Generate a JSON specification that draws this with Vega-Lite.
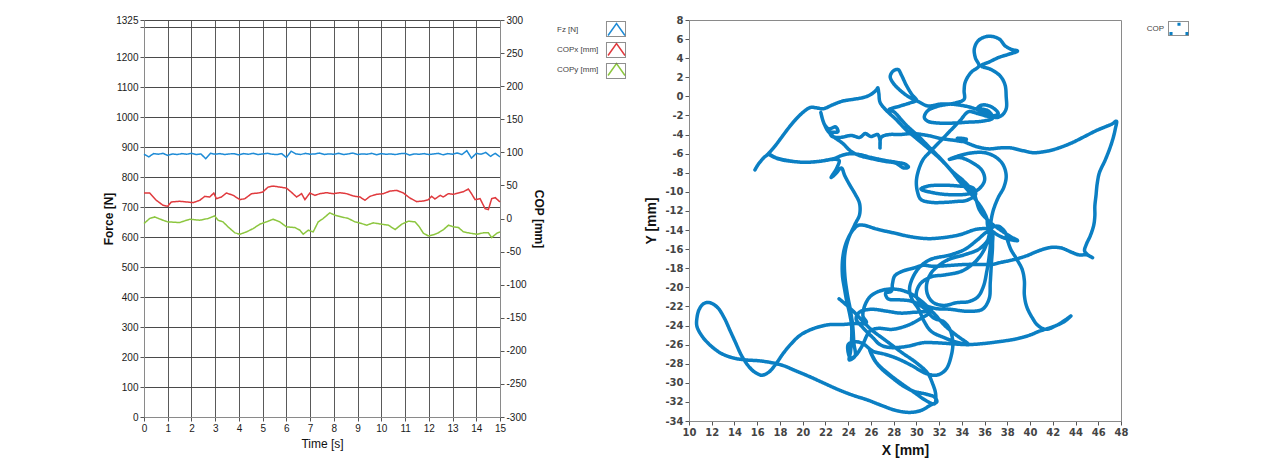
{
  "$schema": "https://vega.github.io/schema/vega-lite/v6.json",
  "background": "white",
  "padding": {"left": 102, "top": 14, "right": 5, "bottom": 5},
  "bounds": "flush",
  "spacing": 189,
  "resolve": {
    "scale": {"color": "independent", "strokeDash": "independent"},
    "legend": {"color": "independent", "strokeDash": "independent"}
  },
  "config": {
    "font": "Liberation Sans",
    "view": {"stroke": "#8a8a8a", "strokeWidth": 1},
    "axis": {
      "labelFont": "Liberation Sans", "labelFontSize": 10, "labelColor": "#1a1a1a",
      "titleFont": "Liberation Sans", "titleColor": "#111",
      "tickColor": "#555", "domainColor": "#8a8a8a", "tickSize": 4, "labelPadding": 2,
      "labelOverlap": false, "labelFlush": false
    },
    "legend": {"padding": 0, "labelFont": "Liberation Sans", "labelFontSize": 8, "labelColor": "#444"}
  },
  "datasets": {
    "ts": [
      {"s":"Fz [N]","t":0,"v":877},{"s":"Fz [N]","t":0.2,"v":868},{"s":"Fz [N]","t":0.4,"v":879},{"s":"Fz [N]","t":0.6,"v":877},{"s":"Fz [N]","t":0.8,"v":880},
      {"s":"Fz [N]","t":1.0,"v":873},{"s":"Fz [N]","t":1.2,"v":878},{"s":"Fz [N]","t":1.4,"v":876},{"s":"Fz [N]","t":1.6,"v":879},{"s":"Fz [N]","t":1.8,"v":877},
      {"s":"Fz [N]","t":2.0,"v":880},{"s":"Fz [N]","t":2.2,"v":876},{"s":"Fz [N]","t":2.4,"v":878},{"s":"Fz [N]","t":2.6,"v":862},{"s":"Fz [N]","t":2.8,"v":880},
      {"s":"Fz [N]","t":3.0,"v":877},{"s":"Fz [N]","t":3.2,"v":879},{"s":"Fz [N]","t":3.4,"v":876},{"s":"Fz [N]","t":3.6,"v":878},{"s":"Fz [N]","t":3.8,"v":879},
      {"s":"Fz [N]","t":4.0,"v":875},{"s":"Fz [N]","t":4.2,"v":879},{"s":"Fz [N]","t":4.4,"v":877},{"s":"Fz [N]","t":4.6,"v":880},{"s":"Fz [N]","t":4.8,"v":876},
      {"s":"Fz [N]","t":5.0,"v":878},{"s":"Fz [N]","t":5.2,"v":880},{"s":"Fz [N]","t":5.4,"v":877},{"s":"Fz [N]","t":5.6,"v":876},{"s":"Fz [N]","t":5.8,"v":879},
      {"s":"Fz [N]","t":6.0,"v":866},{"s":"Fz [N]","t":6.2,"v":887},{"s":"Fz [N]","t":6.4,"v":878},{"s":"Fz [N]","t":6.6,"v":876},{"s":"Fz [N]","t":6.8,"v":880},
      {"s":"Fz [N]","t":7.0,"v":877},{"s":"Fz [N]","t":7.2,"v":878},{"s":"Fz [N]","t":7.4,"v":881},{"s":"Fz [N]","t":7.6,"v":876},{"s":"Fz [N]","t":7.8,"v":878},
      {"s":"Fz [N]","t":8.0,"v":877},{"s":"Fz [N]","t":8.2,"v":880},{"s":"Fz [N]","t":8.4,"v":876},{"s":"Fz [N]","t":8.6,"v":878},{"s":"Fz [N]","t":8.8,"v":881},
      {"s":"Fz [N]","t":9.0,"v":876},{"s":"Fz [N]","t":9.2,"v":878},{"s":"Fz [N]","t":9.4,"v":877},{"s":"Fz [N]","t":9.6,"v":880},{"s":"Fz [N]","t":9.8,"v":875},
      {"s":"Fz [N]","t":10.0,"v":879},{"s":"Fz [N]","t":10.2,"v":877},{"s":"Fz [N]","t":10.4,"v":878},{"s":"Fz [N]","t":10.6,"v":876},{"s":"Fz [N]","t":10.8,"v":879},
      {"s":"Fz [N]","t":11.0,"v":880},{"s":"Fz [N]","t":11.2,"v":874},{"s":"Fz [N]","t":11.4,"v":878},{"s":"Fz [N]","t":11.6,"v":877},{"s":"Fz [N]","t":11.8,"v":879},
      {"s":"Fz [N]","t":12.0,"v":876},{"s":"Fz [N]","t":12.2,"v":878},{"s":"Fz [N]","t":12.4,"v":880},{"s":"Fz [N]","t":12.6,"v":875},{"s":"Fz [N]","t":12.8,"v":879},
      {"s":"Fz [N]","t":13.0,"v":877},{"s":"Fz [N]","t":13.2,"v":881},{"s":"Fz [N]","t":13.4,"v":876},{"s":"Fz [N]","t":13.6,"v":889},{"s":"Fz [N]","t":13.8,"v":864},
      {"s":"Fz [N]","t":14.0,"v":880},{"s":"Fz [N]","t":14.2,"v":877},{"s":"Fz [N]","t":14.4,"v":883},{"s":"Fz [N]","t":14.6,"v":870},{"s":"Fz [N]","t":14.8,"v":880},
      {"s":"Fz [N]","t":15.0,"v":868},
      {"s":"COPx [mm]","t":0,"v":38.5},{"s":"COPx [mm]","t":0.24,"v":38.5},{"s":"COPx [mm]","t":0.52,"v":27.5},{"s":"COPx [mm]","t":0.8,"v":20},{"s":"COPx [mm]","t":1.0,"v":18.5},
      {"s":"COPx [mm]","t":1.15,"v":25},{"s":"COPx [mm]","t":1.5,"v":26},{"s":"COPx [mm]","t":1.8,"v":25},{"s":"COPx [mm]","t":2.07,"v":24},{"s":"COPx [mm]","t":2.35,"v":27.5},
      {"s":"COPx [mm]","t":2.56,"v":33.5},{"s":"COPx [mm]","t":2.77,"v":32.5},{"s":"COPx [mm]","t":2.94,"v":38.5},{"s":"COPx [mm]","t":3.05,"v":30},{"s":"COPx [mm]","t":3.26,"v":32.5},
      {"s":"COPx [mm]","t":3.47,"v":38.5},{"s":"COPx [mm]","t":3.76,"v":35},{"s":"COPx [mm]","t":4.04,"v":28.5},{"s":"COPx [mm]","t":4.25,"v":30},{"s":"COPx [mm]","t":4.53,"v":37.5},
      {"s":"COPx [mm]","t":4.81,"v":38.5},{"s":"COPx [mm]","t":5.0,"v":40},{"s":"COPx [mm]","t":5.23,"v":47.5},{"s":"COPx [mm]","t":5.44,"v":49},{"s":"COPx [mm]","t":5.72,"v":47.5},
      {"s":"COPx [mm]","t":6.0,"v":46},{"s":"COPx [mm]","t":6.2,"v":40},{"s":"COPx [mm]","t":6.43,"v":32.5},{"s":"COPx [mm]","t":6.64,"v":37.5},{"s":"COPx [mm]","t":6.78,"v":28.5},
      {"s":"COPx [mm]","t":6.99,"v":38.5},{"s":"COPx [mm]","t":7.2,"v":35},{"s":"COPx [mm]","t":7.41,"v":37.5},{"s":"COPx [mm]","t":7.69,"v":39},{"s":"COPx [mm]","t":7.97,"v":37.5},
      {"s":"COPx [mm]","t":8.26,"v":39},{"s":"COPx [mm]","t":8.54,"v":37.5},{"s":"COPx [mm]","t":8.82,"v":34},{"s":"COPx [mm]","t":9.1,"v":32.5},{"s":"COPx [mm]","t":9.31,"v":27.5},
      {"s":"COPx [mm]","t":9.52,"v":33.5},{"s":"COPx [mm]","t":9.8,"v":36.5},{"s":"COPx [mm]","t":10.08,"v":37.5},{"s":"COPx [mm]","t":10.37,"v":41.5},{"s":"COPx [mm]","t":10.65,"v":42.5},
      {"s":"COPx [mm]","t":10.93,"v":38.5},{"s":"COPx [mm]","t":11.2,"v":31},{"s":"COPx [mm]","t":11.49,"v":25.5},{"s":"COPx [mm]","t":11.77,"v":26.5},{"s":"COPx [mm]","t":11.98,"v":28.5},
      {"s":"COPx [mm]","t":12.12,"v":33.5},{"s":"COPx [mm]","t":12.26,"v":29.5},{"s":"COPx [mm]","t":12.48,"v":35},{"s":"COPx [mm]","t":12.6,"v":32.5},{"s":"COPx [mm]","t":12.83,"v":37.5},
      {"s":"COPx [mm]","t":13.04,"v":36.5},{"s":"COPx [mm]","t":13.25,"v":38.5},{"s":"COPx [mm]","t":13.46,"v":40.5},{"s":"COPx [mm]","t":13.67,"v":44.5},{"s":"COPx [mm]","t":13.8,"v":37.5},
      {"s":"COPx [mm]","t":13.95,"v":28.5},{"s":"COPx [mm]","t":14.16,"v":30},{"s":"COPx [mm]","t":14.37,"v":15},{"s":"COPx [mm]","t":14.51,"v":13.5},{"s":"COPx [mm]","t":14.65,"v":30},
      {"s":"COPx [mm]","t":14.8,"v":31.5},{"s":"COPx [mm]","t":15,"v":25},
      {"s":"COPy [mm]","t":0,"v":-7.6},{"s":"COPy [mm]","t":0.24,"v":0},{"s":"COPy [mm]","t":0.45,"v":2.4},{"s":"COPy [mm]","t":0.8,"v":-2.6},{"s":"COPy [mm]","t":1.0,"v":-5.1},
      {"s":"COPy [mm]","t":1.5,"v":-6.1},{"s":"COPy [mm]","t":1.93,"v":-1.1},{"s":"COPy [mm]","t":2.35,"v":-2.6},{"s":"COPy [mm]","t":2.7,"v":0},{"s":"COPy [mm]","t":2.98,"v":4},
      {"s":"COPy [mm]","t":3.12,"v":-2.6},{"s":"COPy [mm]","t":3.33,"v":-5.1},{"s":"COPy [mm]","t":3.54,"v":-12.6},{"s":"COPy [mm]","t":3.83,"v":-21.7},{"s":"COPy [mm]","t":4.04,"v":-23.8},
      {"s":"COPy [mm]","t":4.32,"v":-20.2},{"s":"COPy [mm]","t":4.6,"v":-15.2},{"s":"COPy [mm]","t":4.88,"v":-8.6},{"s":"COPy [mm]","t":5.16,"v":-5.1},{"s":"COPy [mm]","t":5.44,"v":-1.1},
      {"s":"COPy [mm]","t":5.72,"v":-5.1},{"s":"COPy [mm]","t":6.0,"v":-12.6},{"s":"COPy [mm]","t":6.36,"v":-13.7},{"s":"COPy [mm]","t":6.57,"v":-17.7},{"s":"COPy [mm]","t":6.71,"v":-23.8},
      {"s":"COPy [mm]","t":6.92,"v":-17.7},{"s":"COPy [mm]","t":7.13,"v":-20.2},{"s":"COPy [mm]","t":7.34,"v":-5.1},{"s":"COPy [mm]","t":7.55,"v":0},{"s":"COPy [mm]","t":7.83,"v":8.6},
      {"s":"COPy [mm]","t":8.04,"v":5},{"s":"COPy [mm]","t":8.33,"v":2.4},{"s":"COPy [mm]","t":8.61,"v":0},{"s":"COPy [mm]","t":8.89,"v":-5.1},{"s":"COPy [mm]","t":9.17,"v":-7.6},
      {"s":"COPy [mm]","t":9.38,"v":-10.1},{"s":"COPy [mm]","t":9.66,"v":-6.6},{"s":"COPy [mm]","t":10.01,"v":-8.6},{"s":"COPy [mm]","t":10.3,"v":-10.1},{"s":"COPy [mm]","t":10.58,"v":-16.7},
      {"s":"COPy [mm]","t":10.86,"v":-8.6},{"s":"COPy [mm]","t":11.14,"v":-4.1},{"s":"COPy [mm]","t":11.42,"v":-5.1},{"s":"COPy [mm]","t":11.6,"v":-12.6},{"s":"COPy [mm]","t":11.77,"v":-22.2},
      {"s":"COPy [mm]","t":11.98,"v":-26.3},{"s":"COPy [mm]","t":12.19,"v":-24.7},{"s":"COPy [mm]","t":12.4,"v":-21.7},{"s":"COPy [mm]","t":12.62,"v":-16.7},{"s":"COPy [mm]","t":12.83,"v":-10.1},
      {"s":"COPy [mm]","t":13.04,"v":-12.6},{"s":"COPy [mm]","t":13.25,"v":-13.7},{"s":"COPy [mm]","t":13.46,"v":-20.2},{"s":"COPy [mm]","t":13.74,"v":-22.2},{"s":"COPy [mm]","t":14.02,"v":-23.8},
      {"s":"COPy [mm]","t":14.3,"v":-21.7},{"s":"COPy [mm]","t":14.51,"v":-21.7},{"s":"COPy [mm]","t":14.65,"v":-28.8},{"s":"COPy [mm]","t":14.87,"v":-22.2},{"s":"COPy [mm]","t":15,"v":-20.2}
    ],
    "cop": [
      {"x":15.8,"y":-7.7},{"x":16.1,"y":-7.1},{"x":16.6,"y":-6.4},{"x":16.9,"y":-6.1},{"x":17.5,"y":-5.3},{"x":18.2,"y":-4.2},{"x":18.7,"y":-3.4},{"x":19.4,"y":-2.4},{"x":20.1,"y":-1.6},{"x":20.7,"y":-1.15},
      {"x":21.2,"y":-1.2},{"x":21.8,"y":-1.3},{"x":22.6,"y":-0.9},{"x":23.5,"y":-0.5},{"x":24.5,"y":-0.3},{"x":25.4,"y":-0.1},{"x":26.0,"y":0.2},{"x":26.5,"y":0.7},{"x":26.6,"y":0.9},{"x":26.7,"y":0.3},
      {"x":26.8,"y":-0.6},{"x":27.3,"y":-1.4},{"x":28.2,"y":-2.4},{"x":29.0,"y":-3.4},{"x":30.0,"y":-4.4},{"x":31.0,"y":-5.4},{"x":32.05,"y":-6.5},{"x":33.0,"y":-7.7},{"x":33.8,"y":-8.9},{"x":34.5,"y":-9.8},
      {"x":35.2,"y":-10.8},{"x":35.8,"y":-11.8},{"x":36.2,"y":-12.8},{"x":36.3,"y":-13.6},{"x":37.0,"y":-14.4},{"x":37.9,"y":-14.9},{"x":38.9,"y":-15.1},{"x":38.3,"y":-14.7},{"x":37.4,"y":-14.0},{"x":36.5,"y":-13.2},
      {"x":35.6,"y":-12.0},{"x":35.0,"y":-10.0},{"x":34.1,"y":-8.8},{"x":33.2,"y":-7.9},{"x":32.2,"y":-6.6},{"x":31.2,"y":-5.4},{"x":30.2,"y":-4.2},{"x":29.1,"y":-3.0},{"x":28.0,"y":-1.6},{"x":27.6,"y":-1.4},
      {"x":28.6,"y":-1.0},{"x":29.4,"y":-0.7},{"x":30.0,"y":-0.4},{"x":29.6,"y":0.2},{"x":29.1,"y":1.2},{"x":28.7,"y":2.2},{"x":28.4,"y":2.8},{"x":28.0,"y":2.7},{"x":27.7,"y":2.1},{"x":27.9,"y":1.5},
      {"x":28.6,"y":0.6},{"x":29.4,"y":-0.1},{"x":30.1,"y":-0.5},{"x":31.0,"y":-1.0},{"x":32.2,"y":-0.8},{"x":33.4,"y":-0.85},{"x":34.6,"y":-1.1},{"x":35.6,"y":-1.5},{"x":36.4,"y":-2.0},{"x":36.7,"y":-2.3},
      {"x":35.8,"y":-2.6},{"x":34.5,"y":-2.7},{"x":33.2,"y":-2.8},{"x":32.0,"y":-2.8},{"x":31.0,"y":-2.6},{"x":30.7,"y":-2.2},{"x":31.0,"y":-1.5},{"x":32.0,"y":-1.0},{"x":33.4,"y":-0.7},{"x":34.2,"y":-0.3},
      {"x":34.2,"y":0.6},{"x":34.3,"y":1.5},{"x":34.8,"y":2.5},{"x":35.5,"y":3.2},{"x":35.2,"y":4.0},{"x":35.1,"y":5.0},{"x":35.5,"y":5.9},{"x":36.4,"y":6.3},{"x":37.3,"y":6.0},{"x":37.8,"y":5.3},
      {"x":38.4,"y":4.9},{"x":38.9,"y":4.75},{"x":38.1,"y":4.4},{"x":37.3,"y":4.1},{"x":36.4,"y":3.6},{"x":35.7,"y":3.2},{"x":36.6,"y":2.8},{"x":37.4,"y":2.1},{"x":37.8,"y":1.2},{"x":37.9,"y":0.0},
      {"x":37.9,"y":-1.3},{"x":37.5,"y":-2.0},{"x":36.9,"y":-2.2},{"x":36.3,"y":-1.5},{"x":35.4,"y":-1.2},{"x":35.8,"y":-0.9},{"x":36.6,"y":-1.1},{"x":37.2,"y":-1.8},{"x":36.5,"y":-2.1},{"x":35.4,"y":-1.8},
      {"x":34.6,"y":-1.6},{"x":33.8,"y":-2.6},{"x":32.9,"y":-3.7},{"x":32.1,"y":-4.7},{"x":31.2,"y":-5.8},{"x":30.6,"y":-6.6},{"x":30.2,"y":-7.7},{"x":30.0,"y":-8.9},{"x":30.1,"y":-10.0},{"x":30.4,"y":-10.8},
      {"x":31.3,"y":-11.1},{"x":32.5,"y":-11.1},{"x":33.6,"y":-11.0},{"x":34.4,"y":-10.9},{"x":35.2,"y":-10.3},{"x":35.0,"y":-9.6},{"x":33.8,"y":-9.4},{"x":32.3,"y":-9.3},{"x":31.0,"y":-9.4},{"x":30.4,"y":-9.7},
      {"x":31.5,"y":-10.1},{"x":33.0,"y":-10.3},{"x":34.6,"y":-10.2},{"x":35.5,"y":-9.7},{"x":36.0,"y":-8.8},{"x":35.8,"y":-7.8},{"x":35.0,"y":-7.0},{"x":33.8,"y":-6.4},{"x":32.9,"y":-6.6},{"x":33.8,"y":-6.2},
      {"x":35.0,"y":-5.9},{"x":36.0,"y":-5.9},{"x":36.9,"y":-6.3},{"x":37.6,"y":-7.1},{"x":37.9,"y":-8.3},{"x":37.7,"y":-9.5},{"x":37.2,"y":-10.6},{"x":36.8,"y":-11.8},{"x":36.6,"y":-12.8},{"x":36.5,"y":-13.8},
      {"x":36.3,"y":-15.0},{"x":35.9,"y":-16.2},{"x":35.2,"y":-17.3},{"x":34.0,"y":-18.3},{"x":32.5,"y":-18.7},{"x":31.3,"y":-18.9},{"x":30.3,"y":-19.7},{"x":30.0,"y":-20.9},{"x":30.5,"y":-21.7},{"x":31.6,"y":-22.2},
      {"x":33.0,"y":-22.3},{"x":34.4,"y":-22.5},{"x":35.8,"y":-22.3},{"x":36.4,"y":-21.2},{"x":36.5,"y":-19.5},{"x":36.6,"y":-17.5},{"x":36.7,"y":-15.5},{"x":36.6,"y":-14.0},{"x":35.4,"y":-13.9},{"x":33.8,"y":-14.5},
      {"x":32.3,"y":-14.8},{"x":31.0,"y":-14.9},{"x":29.5,"y":-14.7},{"x":28.0,"y":-14.3},{"x":26.5,"y":-13.9},{"x":25.4,"y":-13.5},{"x":24.9,"y":-13.5},{"x":24.5,"y":-13.9},{"x":24.1,"y":-14.6},{"x":23.7,"y":-15.8},
      {"x":23.5,"y":-17.2},{"x":23.5,"y":-18.8},{"x":23.7,"y":-20.3},{"x":23.9,"y":-21.6},{"x":24.1,"y":-22.6},{"x":24.3,"y":-24.0},{"x":24.3,"y":-25.5},{"x":24.2,"y":-26.8},{"x":24.1,"y":-27.6},{"x":24.6,"y":-27.2},
      {"x":24.5,"y":-25.8},{"x":24.4,"y":-24.0},{"x":24.2,"y":-22.4},{"x":23.9,"y":-20.5},{"x":23.7,"y":-18.6},{"x":23.7,"y":-16.6},{"x":24.0,"y":-15.0},{"x":24.6,"y":-13.4},{"x":25.0,"y":-12.4},{"x":25.0,"y":-11.2},
      {"x":24.6,"y":-10.2},{"x":24.1,"y":-9.2},{"x":23.7,"y":-8.3},{"x":23.4,"y":-7.5},{"x":22.9,"y":-8.1},{"x":22.5,"y":-8.5},{"x":23.0,"y":-7.5},{"x":23.2,"y":-6.7},{"x":22.6,"y":-6.6},{"x":21.5,"y":-6.8},
      {"x":20.2,"y":-6.9},{"x":19.0,"y":-6.8},{"x":18.0,"y":-6.6},{"x":17.2,"y":-6.2},{"x":17.0,"y":-6.0},{"x":17.6,"y":-6.4},{"x":18.6,"y":-6.7},{"x":20.0,"y":-6.9},{"x":21.5,"y":-6.8},{"x":22.8,"y":-6.5},
      {"x":23.4,"y":-6.2},{"x":24.2,"y":-6.0},{"x":25.0,"y":-6.1},{"x":26.0,"y":-6.4},{"x":27.2,"y":-6.7},{"x":28.2,"y":-6.9},{"x":29.0,"y":-7.1},{"x":29.3,"y":-7.4},{"x":28.9,"y":-7.5},{"x":28.2,"y":-7.0},
      {"x":27.2,"y":-6.8},{"x":26.0,"y":-6.5},{"x":25.0,"y":-6.2},{"x":24.2,"y":-5.7},{"x":23.5,"y":-4.9},{"x":22.8,"y":-4.3},{"x":22.2,"y":-3.6},{"x":21.8,"y":-2.6},{"x":21.6,"y":-1.7},{"x":21.9,"y":-2.9},
      {"x":22.3,"y":-3.4},{"x":22.9,"y":-3.2},{"x":23.1,"y":-3.7},{"x":22.4,"y":-3.8},{"x":22.6,"y":-4.2},{"x":23.3,"y":-4.3},{"x":24.3,"y":-4.1},{"x":25.0,"y":-4.3},{"x":25.5,"y":-3.9},{"x":26.0,"y":-4.2},
      {"x":26.6,"y":-4.0},{"x":26.8,"y":-4.6},{"x":26.8,"y":-5.4},{"x":26.9,"y":-4.3},{"x":27.6,"y":-4.0},{"x":28.5,"y":-4.0},{"x":29.7,"y":-3.9},{"x":31.0,"y":-4.1},{"x":32.1,"y":-4.4},{"x":33.3,"y":-4.6},
      {"x":34.2,"y":-4.7},{"x":34.4,"y":-4.5},{"x":33.6,"y":-4.4},{"x":34.5,"y":-4.9},{"x":35.4,"y":-5.3},{"x":36.4,"y":-5.5},{"x":37.3,"y":-5.4},{"x":38.3,"y":-5.4},{"x":39.4,"y":-5.7},{"x":40.3,"y":-5.9},
      {"x":41.2,"y":-5.8},{"x":42.0,"y":-5.6},{"x":43.0,"y":-5.2},{"x":43.8,"y":-4.8},{"x":44.8,"y":-4.2},{"x":45.8,"y":-3.6},{"x":46.6,"y":-3.2},{"x":47.2,"y":-2.9},{"x":47.6,"y":-2.6},{"x":47.5,"y":-3.4},
      {"x":47.3,"y":-4.4},{"x":47.0,"y":-5.5},{"x":46.6,"y":-6.7},{"x":46.1,"y":-8.0},{"x":45.9,"y":-9.2},{"x":45.8,"y":-10.4},{"x":45.7,"y":-11.5},{"x":45.7,"y":-12.5},{"x":45.6,"y":-13.5},{"x":45.3,"y":-14.6},
      {"x":44.95,"y":-15.5},{"x":44.8,"y":-16.2},{"x":45.2,"y":-16.7},{"x":45.5,"y":-16.9},{"x":45.0,"y":-16.6},{"x":44.3,"y":-16.6},{"x":43.6,"y":-16.3},{"x":42.8,"y":-15.9},{"x":42.0,"y":-15.8},{"x":41.2,"y":-16.0},
      {"x":40.5,"y":-16.3},{"x":39.7,"y":-16.7},{"x":38.9,"y":-17.0},{"x":38.2,"y":-17.2},{"x":37.4,"y":-17.4},{"x":36.7,"y":-17.6},{"x":35.5,"y":-17.6},{"x":34.4,"y":-17.6},{"x":33.0,"y":-17.7},{"x":31.5,"y":-17.8},
      {"x":30.6,"y":-17.7},{"x":29.7,"y":-18.0},{"x":28.8,"y":-18.3},{"x":28.1,"y":-18.8},{"x":27.9,"y":-19.6},{"x":27.8,"y":-20.4},{"x":27.3,"y":-20.6},{"x":27.5,"y":-21.2},{"x":28.5,"y":-21.3},{"x":29.7,"y":-21.5},
      {"x":30.8,"y":-22.3},{"x":31.5,"y":-23.2},{"x":32.4,"y":-23.6},{"x":32.9,"y":-24.3},{"x":33.2,"y":-25.6},{"x":33.1,"y":-27.0},{"x":32.6,"y":-28.6},{"x":31.8,"y":-29.2},{"x":30.8,"y":-29.0},{"x":29.6,"y":-28.2},
      {"x":28.4,"y":-27.5},{"x":27.2,"y":-27.0},{"x":26.2,"y":-26.7},{"x":25.3,"y":-25.9},{"x":24.6,"y":-25.7},{"x":24.0,"y":-26.0},{"x":24.2,"y":-27.4},{"x":24.6,"y":-27.2},{"x":25.2,"y":-26.2},{"x":25.9,"y":-24.6},
      {"x":26.6,"y":-24.3},{"x":27.9,"y":-24.4},{"x":29.2,"y":-24.0},{"x":30.2,"y":-23.4},{"x":31.2,"y":-22.6},{"x":30.0,"y":-22.6},{"x":28.6,"y":-22.7},{"x":27.4,"y":-22.5},{"x":26.0,"y":-22.3},{"x":25.0,"y":-22.6},
      {"x":24.7,"y":-23.3},{"x":25.2,"y":-24.1},{"x":26.2,"y":-25.3},{"x":26.8,"y":-26.0},{"x":27.65,"y":-26.3},{"x":29.1,"y":-26.2},{"x":30.6,"y":-25.8},{"x":31.6,"y":-25.8},{"x":33.0,"y":-25.9},{"x":34.4,"y":-26.0},
      {"x":35.8,"y":-25.9},{"x":37.2,"y":-25.7},{"x":38.8,"y":-25.4},{"x":40.0,"y":-25.0},{"x":40.8,"y":-24.6},{"x":41.6,"y":-24.3},{"x":42.3,"y":-24.0},{"x":43.0,"y":-23.6},{"x":43.6,"y":-23.0},{"x":43.0,"y":-23.5},
      {"x":42.3,"y":-24.0},{"x":41.4,"y":-24.4},{"x":40.7,"y":-24.0},{"x":40.2,"y":-23.2},{"x":39.7,"y":-22.0},{"x":39.5,"y":-20.8},{"x":39.5,"y":-19.3},{"x":39.3,"y":-18.1},{"x":38.8,"y":-17.0},{"x":38.3,"y":-16.0},
      {"x":38.0,"y":-15.0},{"x":37.8,"y":-14.2},{"x":37.2,"y":-13.6},{"x":36.6,"y":-13.8},{"x":36.3,"y":-15.0},{"x":35.5,"y":-16.0},{"x":34.2,"y":-16.6},{"x":33.0,"y":-17.0},{"x":32.1,"y":-17.6},{"x":31.3,"y":-18.5},
      {"x":30.9,"y":-19.7},{"x":31.0,"y":-20.8},{"x":31.5,"y":-21.6},{"x":32.4,"y":-21.9},{"x":33.6,"y":-21.6},{"x":34.6,"y":-21.5},{"x":35.4,"y":-21.0},{"x":35.9,"y":-19.9},{"x":36.2,"y":-18.3},{"x":36.4,"y":-16.8},
      {"x":36.5,"y":-15.3},{"x":36.3,"y":-14.2},{"x":35.4,"y":-15.0},{"x":34.3,"y":-16.0},{"x":33.0,"y":-16.6},{"x":31.2,"y":-17.1},{"x":30.2,"y":-18.0},{"x":29.6,"y":-19.2},{"x":29.4,"y":-20.2},{"x":29.6,"y":-21.2},
      {"x":30.2,"y":-22.3},{"x":30.7,"y":-23.6},{"x":31.3,"y":-24.6},{"x":32.5,"y":-25.3},{"x":33.7,"y":-25.8},{"x":34.6,"y":-26.0},{"x":33.5,"y":-25.0},{"x":32.5,"y":-24.0},{"x":31.6,"y":-22.8},{"x":30.5,"y":-21.5},
      {"x":29.4,"y":-20.6},{"x":28.2,"y":-20.2},{"x":27.0,"y":-20.3},{"x":26.0,"y":-20.9},{"x":25.5,"y":-21.8},{"x":25.3,"y":-23.0},{"x":25.6,"y":-23.7},{"x":24.4,"y":-23.8},{"x":23.4,"y":-23.9},{"x":22.4,"y":-23.9},
      {"x":21.0,"y":-24.3},{"x":19.8,"y":-25.0},{"x":19.0,"y":-25.9},{"x":18.3,"y":-26.9},{"x":17.6,"y":-28.1},{"x":17.0,"y":-28.9},{"x":16.4,"y":-29.2},{"x":15.8,"y":-28.9},{"x":15.2,"y":-28.2},{"x":14.6,"y":-27.1},
      {"x":14.1,"y":-25.8},{"x":13.6,"y":-24.5},{"x":13.1,"y":-23.2},{"x":12.5,"y":-22.1},{"x":11.8,"y":-21.6},{"x":11.3,"y":-21.7},{"x":10.9,"y":-22.3},{"x":10.7,"y":-23.2},{"x":10.7,"y":-24.1},{"x":11.2,"y":-25.2},
      {"x":11.9,"y":-26.1},{"x":12.8,"y":-26.9},{"x":13.9,"y":-27.4},{"x":15.0,"y":-27.6},{"x":16.2,"y":-27.7},{"x":17.3,"y":-27.9},{"x":18.3,"y":-28.2},{"x":19.3,"y":-28.7},{"x":20.5,"y":-29.3},{"x":21.8,"y":-30.0},
      {"x":23.1,"y":-30.7},{"x":24.4,"y":-31.3},{"x":25.7,"y":-31.8},{"x":27.0,"y":-32.4},{"x":28.2,"y":-32.9},{"x":29.4,"y":-33.1},{"x":30.4,"y":-32.9},{"x":31.3,"y":-32.3},{"x":31.8,"y":-32.0},{"x":31.6,"y":-31.5},
      {"x":30.9,"y":-31.2},{"x":29.8,"y":-30.9},{"x":28.8,"y":-30.3},{"x":27.8,"y":-29.4},{"x":27.0,"y":-28.6},{"x":26.3,"y":-27.6},{"x":25.9,"y":-26.6},{"x":26.5,"y":-27.9},{"x":27.5,"y":-29.0},{"x":28.6,"y":-30.0},
      {"x":29.8,"y":-31.0},{"x":30.9,"y":-31.9},{"x":31.6,"y":-32.2},{"x":31.7,"y":-31.2},{"x":31.4,"y":-30.0},{"x":31.0,"y":-29.0},{"x":30.0,"y":-27.9},{"x":28.8,"y":-26.9},{"x":27.9,"y":-26.1},{"x":27.0,"y":-25.3},
      {"x":26.2,"y":-24.6},{"x":25.4,"y":-23.7},{"x":24.7,"y":-22.8},{"x":23.9,"y":-21.9},{"x":23.2,"y":-21.2}
    ]
  },
  "hconcat": [
    {
      "width": 356,
      "height": 397,
      "data": {"name": "ts"},
      "encoding": {
        "x": {
          "field": "t", "type": "quantitative",
          "scale": {"domain": [0, 15], "nice": false, "zero": false},
          "axis": {
            "title": "Time [s]", "values": [0,1,2,3,4,5,6,7,8,9,10,11,12,13,14,15], "labelOverlap": false,
            "grid": true, "gridColor": "#5a5a5a", "gridOpacity": 1, "titleFontSize": 12, "titleFontWeight": "normal", "titlePadding": 5
          }
        }
      },
      "layer": [
        {
          "transform": [{"filter": "datum.s == 'Fz [N]'"}],
          "mark": {"type": "line", "strokeWidth": 1.5},
          "encoding": {
            "y": {
              "field": "v", "type": "quantitative",
              "scale": {"domain": [0, 1325], "nice": false, "zero": false},
              "axis": {
                "title": "Force [N]", "values": [0,100,200,300,400,500,600,700,800,900,1000,1100,1200,1300,1325],
                "labelExpr": "datum.value == 1300 ? '' : '' + datum.value",
                "grid": true, "gridColor": "#4a4a4a", "gridOpacity": 1, "titleFontSize": 12, "titleFontWeight": "bold", "titlePadding": 0
              }
            },
            "color": {
              "field": "s", "type": "nominal",
              "scale": {"domain": ["Fz [N]", "COPx [mm]", "COPy [mm]"], "range": ["#1e8bd6", "#e03a3e", "#8cc63f"]},
              "legend": {
                "title": null, "orient": "none", "legendX": 464, "legendY": 1,
                "symbolType": "M-1.13,0.8L0,-0.8L1.13,0.8", "symbolSize": 225, "symbolStrokeWidth": 1.5,
                "labelAlign": "left", "labelOffset": -68, "rowPadding": 1
              }
            },
            "strokeDash": {
              "field": "s", "type": "nominal",
              "scale": {"range": [[1, 0], [1, 0], [1, 0]]},
              "legend": {
                "title": null, "orient": "none", "legendX": 464, "legendY": 1,
                "symbolType": "M-1.27,-1H1.27V1H-1.27Z", "symbolSize": 225, "symbolStrokeWidth": 1,
                "symbolStrokeColor": "#6a6a6a", "labelOpacity": 0, "rowPadding": 1
              }
            }
          }
        },
        {
          "transform": [{"filter": "datum.s != 'Fz [N]'"}],
          "mark": {"type": "line", "strokeWidth": 1.5},
          "encoding": {
            "y": {
              "field": "v", "type": "quantitative",
              "scale": {"domain": [-300, 300], "nice": false, "zero": false},
              "axis": {
                "orient": "right", "title": "COP [mm]", "values": [-300,-250,-200,-150,-100,-50,0,50,100,150,200,250,300],
                "labelExpr": "'' + datum.value",
                "grid": false, "titleFontSize": 12, "titleFontWeight": "bold", "titlePadding": 5
              }
            },
            "color": {"field": "s", "type": "nominal"},
            "strokeDash": {"field": "s", "type": "nominal"}
          }
        }
      ],
      "resolve": {"scale": {"y": "independent"}}
    },
    {
      "width": 432,
      "height": 401,
      "data": {"name": "cop"},
      "mark": {"type": "line", "strokeWidth": 3.5, "strokeCap": "round", "strokeJoin": "round", "interpolate": "catmull-rom"},
      "encoding": {
        "x": {
          "field": "x", "type": "quantitative",
          "scale": {"domain": [10, 48], "nice": false, "zero": false},
          "axis": {
            "title": "X [mm]", "values": [10,12,14,16,18,20,22,24,26,28,30,32,34,36,38,40,42,44,46,48],
            "grid": false, "labelFont": "DejaVu Sans", "labelFontWeight": "bold", "labelColor": "#444", "labelFontSize": 10,
            "titleFontSize": 14, "titleFontWeight": "bold", "titlePadding": 6
          }
        },
        "y": {
          "field": "y", "type": "quantitative",
          "scale": {"domain": [-34, 8], "nice": false, "zero": false},
          "axis": {
            "title": "Y [mm]", "values": [-34,-32,-30,-28,-26,-24,-22,-20,-18,-16,-14,-12,-10,-8,-6,-4,-2,0,2,4,6,8],
            "labelExpr": "'' + datum.value",
            "grid": false, "labelFont": "DejaVu Sans", "labelFontWeight": "bold", "labelColor": "#444", "labelFontSize": 10,
            "titleFontSize": 14, "titleFontWeight": "bold", "titlePadding": 6
          }
        },
        "order": {"value": null},
        "color": {
          "datum": "COP",
          "scale": {"range": ["#0b7fc3"]},
          "legend": {
            "title": null, "orient": "none", "legendX": 479, "legendY": -2,
            "symbolType": "M-0.08,-0.55h0.16v0.16h-0.16z M-0.88,0.38h0.16v0.16h-0.16z M0.72,0.38h0.16v0.16h-0.16z",
            "symbolSize": 400, "symbolStrokeWidth": 1.5,
            "labelAlign": "right", "labelOffset": -26
          }
        },
        "strokeDash": {
          "datum": "box",
          "scale": {"range": [[1, 0]]},
          "legend": {
            "title": null, "orient": "none", "legendX": 479, "legendY": -2,
            "symbolType": "M-1,-0.7H1V0.7H-1Z", "symbolSize": 400, "symbolStrokeWidth": 1,
            "symbolStrokeColor": "#6a6a6a", "labelOpacity": 0
          }
        }
      }
    }
  ]
}
